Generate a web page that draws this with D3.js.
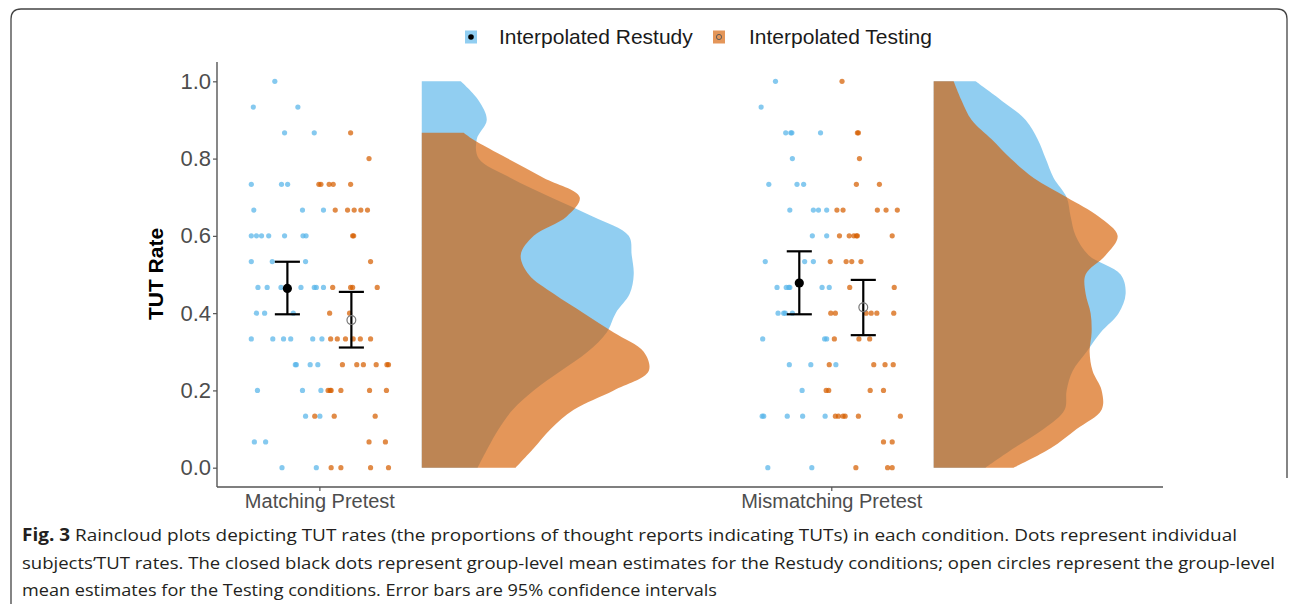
<!DOCTYPE html>
<html>
<head>
<meta charset="utf-8">
<script src="https://cdn.jsdelivr.net/npm/d3@7"></script>
<style>
  body { margin: 0; background: #fff; }
  svg { display: block; }
</style>
</head>
<body>
<div id="plot_area"></div>
<script>
// categories and groups
var categories = ["Matching Pretest", "Mismatching Pretest"];
var groups = ["Interpolated Restudy", "Interpolated Testing"];
var probes = 15;   // TUT rate = k / probes

// individual subjects: [k, jittered x offset from the category]
var matchRestudy = [[15,-0.087],[14,-0.129],[14,-0.042],[13,-0.068],[13,-0.010],
  [11,-0.133],[11,-0.074],[11,-0.062],[10,-0.128],[10,-0.033],[10,0.008],
  [9,-0.133],[9,-0.123],[9,-0.113],[9,-0.099],[9,-0.068],[9,-0.032],[9,-0.026],
  [8,-0.133],[8,-0.092],[8,-0.027],
  [7,-0.120],[7,-0.102],[7,-0.075],[7,-0.063],[7,-0.036],[7,-0.010],[7,-0.006],[7,0.008],
  [6,-0.123],[6,-0.107],[6,-0.051],
  [5,-0.133],[5,-0.091],[5,-0.070],[5,-0.056],[5,-0.013],[5,0.005],
  [4,-0.047],[4,-0.045],[4,-0.018],[4,-0.003],
  [3,-0.121],[3,-0.033],[3,0.003],[2,-0.027],[2,0.001],[1,-0.127],[1,-0.105],[0,-0.073],[0,-0.006]];

var matchTesting = [[13,0.061],[12,0.097],
  [11,-0.001],[11,0.003],[11,0.019],[11,0.027],[11,0.061],
  [10,0.031],[10,0.055],[10,0.068],[10,0.081],[10,0.094],
  [9,0.065],[9,0.067],[8,0.100],
  [7,0.026],[7,0.061],[7,0.065],[7,0.113],[6,0.020],[6,0.059],
  [5,0.022],[5,0.035],[5,0.051],[5,0.066],[5,0.080],[5,0.100],
  [4,0.045],[4,0.073],[4,0.086],[4,0.111],[4,0.132],[4,0.135],
  [3,0.017],[3,0.021],[3,0.023],[3,0.042],[3,0.098],[3,0.131],
  [2,-0.009],[2,0.029],[2,0.109],[1,0.097],[1,0.129],
  [0,0.023],[0,0.042],[0,0.100],[0,0.135]];

var mismatchRestudy = [[15,-0.109],[14,-0.137],
  [13,-0.089],[13,-0.079],[13,-0.077],[13,-0.021],[12,-0.076],
  [11,-0.122],[11,-0.067],[11,-0.054],
  [10,-0.081],[10,-0.035],[10,-0.025],[10,-0.009],
  [9,-0.037],[9,-0.009],[8,-0.129],[8,-0.052],[8,-0.035],
  [7,-0.106],[7,-0.088],[7,-0.083],[7,-0.081],[7,-0.018],[7,-0.004],
  [6,-0.104],[6,-0.093],[6,-0.090],[6,-0.076],
  [5,-0.134],[5,-0.013],[5,-0.009],[4,-0.082],[4,-0.040],[4,0.009],
  [3,-0.057],[2,-0.135],[2,-0.132],[2,-0.086],[2,-0.056],[2,-0.012],
  [0,-0.124],[0,-0.038]];

var mismatchTesting = [[15,0.021],[13,0.051],[13,0.053],[12,0.055],
  [11,0.049],[11,0.094],
  [10,0.011],[10,0.023],[10,0.090],[10,0.107],[10,0.129],
  [9,0.016],[9,0.035],[9,0.044],[9,0.049],[9,0.051],[9,0.119],
  [8,-0.002],[8,0.029],[8,0.040],[8,0.058],[7,0.036],[7,0.123],
  [6,-0.001],[6,0.008],[6,0.068],[6,0.078],[6,0.089],[6,0.122],
  [5,0.006],[5,0.054],[5,0.075],
  [4,-0.004],[4,0.083],[4,0.105],[4,0.121],
  [3,-0.010],[3,-0.005],[3,0.076],[3,0.102],
  [2,0.008],[2,0.014],[2,0.023],[2,0.027],[2,0.053],[2,0.135],
  [1,0.102],[1,0.119],[0,0.048],[0,0.110],[0,0.119]];

// group-level estimates (restudy, testing) x (matching, mismatching)
var meanEst = [0.464, 0.382, 0.478, 0.415];
var ciLow   = [0.397, 0.311, 0.397, 0.343];
var ciHigh  = [0.533, 0.455, 0.560, 0.486];

// density outlines (read at these TUT rates)
var densY = [0, .05, .10, .15, .20, .25, .30, .35, .40, .45, .50, .55, .60, .65, .70, .75, .80, .85, .90, .95, 1.0];
var densMatchTestY = [0, .05, .10, .15, .20, .25, .30, .35, .40, .45, .50, .55, .60, .65, .70, .75, .80, .85, .867];
var densMatchRestudy = [0.56,0.66,0.77,0.91,1.12,1.39,1.66,1.85,1.94,2.08,2.12,2.10,2.07,1.71,1.29,0.89,0.57,0.55,0.65,0.57,0.39];
var densMatchTesting = [0.94,1.12,1.29,1.52,1.92,2.27,2.22,1.92,1.62,1.32,1.07,0.99,1.12,1.45,1.58,1.22,0.86,0.51,0.42];
var densMismatchRestudy = [0.52,0.80,1.10,1.31,1.33,1.39,1.53,1.67,1.85,1.92,1.87,1.55,1.42,1.37,1.33,1.20,1.12,1.04,0.92,0.68,0.42];
var densMismatchTesting = [0.80,1.17,1.43,1.68,1.68,1.59,1.56,1.58,1.57,1.52,1.52,1.72,1.84,1.65,1.33,1.00,0.77,0.58,0.38,0.28,0.20];

var yTicks = [0, 0.2, 0.4, 0.6, 0.8, 1.0];

var captionLines = [
  "Raincloud plots depicting TUT rates (the proportions of thought reports indicating TUTs) in each condition. Dots represent individual",
  "subjects\u2019TUT rates. The closed black dots represent group-level mean estimates for the Restudy conditions; open circles represent the group-level",
  "mean estimates for the Testing conditions. Error bars are 95% confidence intervals"
];

var blue = "#56B4E9", orange = "#D55E00";
var W = 1295, H = 604;

var svg = d3.select("#plot_area").append("svg")
    .attr("width", W).attr("height", H)
    .style("font-family", "'Liberation Sans', Arial, sans-serif");

svg.append("rect").attr("width", W).attr("height", H).attr("fill", "#fff");

// frame
svg.append("path")
    .attr("d", "M11,604 L11,19 Q11,9 21,9 L1277,9 Q1287,9 1287,19 L1287,478")
    .attr("fill", "none").attr("stroke", "#444").attr("stroke-width", 1.3);

// scales
var x = d3.scaleLinear().domain([0.8, 2.648]).range([217, 1163]);
var y = d3.scaleLinear().domain([-0.05, 1.05]).range([487, 62]);
var densW = d3.scaleLinear().domain([0, 1]).range([0, 0.1953]);

var plot = svg.append("g");

// clouds
var clouds = [
  {cat: 1, ys: densY, ds: densMatchRestudy, col: blue},
  {cat: 1, ys: densMatchTestY, ds: densMatchTesting, col: orange},
  {cat: 2, ys: densY, ds: densMismatchRestudy, col: blue},
  {cat: 2, ys: densY, ds: densMismatchTesting, col: orange}
];
clouds.forEach(function(c) {
  var base = c.cat + 0.2;
  var pts = c.ys.map(function(v, i) { return {v: v, d: c.ds[i]}; });
  var area = d3.area()
      .y(function(d) { return y(d.v); })
      .x0(x(base))
      .x1(function(d) { return x(base + densW(d.d)); })
      .curve(d3.curveCatmullRom.alpha(0.5));
  plot.append("path").datum(pts)
      .attr("d", area)
      .attr("fill", c.col)
      .attr("fill-opacity", 0.65);
});

// rain
var rain = [
  {cat: 1, pts: matchRestudy, col: blue},
  {cat: 1, pts: matchTesting, col: orange},
  {cat: 2, pts: mismatchRestudy, col: blue},
  {cat: 2, pts: mismatchTesting, col: orange}
];
rain.forEach(function(r) {
  plot.selectAll(null).data(r.pts).enter().append("circle")
      .attr("cx", function(d) { return x(r.cat + d[1]); })
      .attr("cy", function(d) { return y(d[0] / probes); })
      .attr("r", 2.6)
      .attr("fill", r.col)
      .attr("fill-opacity", 0.72);
});

// means and 95% CIs
var capHalf = 0.0245;
meanEst.forEach(function(m, i) {
  var cx = (i < 2 ? 1 : 2) + (i % 2 === 0 ? -0.0625 : 0.0625);
  var g = plot.append("g").attr("stroke", "#000").attr("stroke-width", 2.2);
  g.append("line").attr("x1", x(cx)).attr("x2", x(cx)).attr("y1", y(ciLow[i])).attr("y2", y(ciHigh[i]));
  g.append("line").attr("x1", x(cx - capHalf)).attr("x2", x(cx + capHalf)).attr("y1", y(ciLow[i])).attr("y2", y(ciLow[i]));
  g.append("line").attr("x1", x(cx - capHalf)).attr("x2", x(cx + capHalf)).attr("y1", y(ciHigh[i])).attr("y2", y(ciHigh[i]));
  if (i % 2 === 0) {
    plot.append("circle").attr("cx", x(cx)).attr("cy", y(m)).attr("r", 4.6).attr("fill", "#000");
  } else {
    plot.append("circle").attr("cx", x(cx)).attr("cy", y(m)).attr("r", 4.4)
        .attr("fill", "none").attr("stroke", "#777").attr("stroke-width", 1.2);
  }
});

// axes
var yAxis = svg.append("g").attr("transform", "translate(217,0)")
    .call(d3.axisLeft(y).tickValues(yTicks).tickFormat(d3.format(".1f")).tickSize(4).tickPadding(2));
var xAxis = svg.append("g").attr("transform", "translate(0,487)")
    .call(d3.axisBottom(x).tickValues([1, 2]).tickFormat(function(d) { return categories[d - 1]; })
      .tickSize(4).tickPadding(3).tickSizeOuter(0));
yAxis.select(".domain").attr("d", "M0,62V487").attr("stroke", "#555").attr("stroke-width", 1.4);
xAxis.select(".domain").attr("d", "M217,0H1163").attr("stroke", "#555").attr("stroke-width", 1.4);
svg.selectAll(".tick line").attr("stroke", "#555").attr("stroke-width", 1.2);
yAxis.selectAll(".tick text").attr("font-size", 22).attr("fill", "#4d4d4d").attr("font-family", "'Liberation Sans', Arial, sans-serif");
xAxis.selectAll(".tick text").attr("font-size", 20).attr("fill", "#4d4d4d").attr("font-family", "'Liberation Sans', Arial, sans-serif");

svg.append("text")
    .attr("transform", "translate(163,274) rotate(-90)")
    .attr("text-anchor", "middle")
    .attr("font-size", 21).attr("font-weight", "bold")
    .text("TUT Rate");

// legend
var legendX = [471, 719], legendTextX = [499, 749];
groups.forEach(function(gname, i) {
  svg.append("rect").attr("x", legendX[i] - 6).attr("y", 30.5).attr("width", 12).attr("height", 13)
      .attr("fill", i === 0 ? blue : orange).attr("fill-opacity", 0.65);
  if (i === 0) {
    svg.append("circle").attr("cx", legendX[i]).attr("cy", 37).attr("r", 2.8).attr("fill", "#000");
  } else {
    svg.append("circle").attr("cx", legendX[i]).attr("cy", 37).attr("r", 2.6)
        .attr("fill", "none").attr("stroke", "#555").attr("stroke-width", 0.9);
  }
  svg.append("text").attr("x", legendTextX[i]).attr("y", 44)
      .attr("font-size", 21).attr("fill", "#1a1a1a").text(gname);
});

// caption
var capWidths = [1215, 1253, 695];
var capY = [541, 569, 596];
captionLines.forEach(function(line, i) {
  var t = svg.append("text").attr("x", 22).attr("y", capY[i])
      .attr("font-family", "'Open Sans', 'Noto Sans', sans-serif")
      .attr("font-size", 17).attr("fill", "#231f20")
      .attr("textLength", capWidths[i]).attr("lengthAdjust", "spacingAndGlyphs");
  if (i === 0) {
    t.append("tspan").attr("font-weight", "bold").text("Fig. 3");
    t.append("tspan").text("  " + line);
  } else {
    t.text(line);
  }
});
</script>
</body>
</html>
